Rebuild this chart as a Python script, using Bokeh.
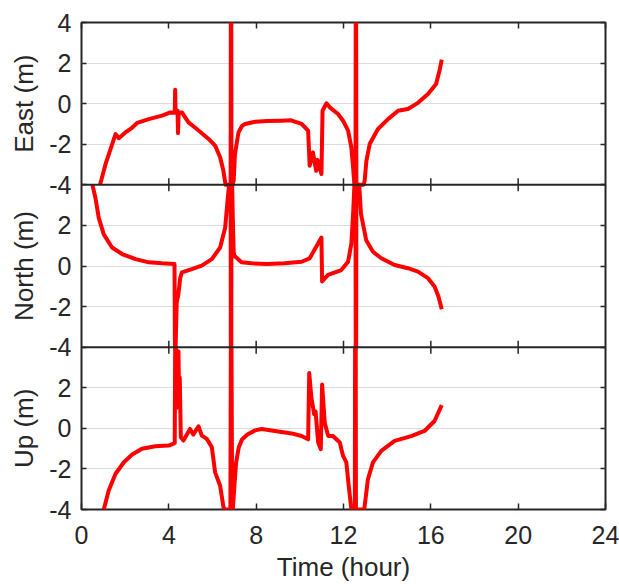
import numpy as np
from math import pi
from bokeh.plotting import figure
from bokeh.layouts import row
from bokeh.models import Range1d, LinearAxis, FixedTicker, Span
from bokeh.core.properties import value
from bokeh.embed import file_html
from bokeh.resources import INLINE

# ---- data (hours, metres); values beyond the +-4 m window are recorded at the window edge ----
east_t = [0.85, 1.10, 1.33, 1.56, 1.71, 2.01, 2.30, 2.55, 3.08, 3.69, 4.07, 4.27, 4.29, 4.31,
          4.40, 4.42, 4.45, 4.60, 4.90, 5.28, 5.82, 6.12, 6.35, 6.50, 6.60, 6.83, 6.84, 6.86,
          6.87, 6.92, 6.97, 7.03, 7.19, 7.35, 7.49, 7.95, 8.50, 9.16, 9.60, 10.08, 10.31, 10.38,
          10.45, 10.60, 10.75, 10.81, 10.99, 11.04, 11.22, 11.37, 11.75, 11.98, 12.21, 12.36,
          12.44, 12.50, 12.55, 12.56, 12.58, 12.59, 12.92, 12.97, 13.05, 13.20, 13.58, 14.04,
          14.50, 14.95, 15.41, 15.87, 16.24, 16.40, 16.50]
east_v = [-4.0, -2.98, -2.24, -1.50, -1.70, -1.42, -1.20, -0.95, -0.76, -0.59, -0.43, -0.45, 0.68, -0.40,
          -0.35, -1.45, -0.45, -0.43, -0.92, -1.25, -1.74, -2.07, -2.64, -3.31, -4.0, -4.0, 4.0, 4.0,
          -4.0, -4.0, -3.80, -2.48, -1.42, -1.10, -1.00, -0.89, -0.86, -0.84, -0.82, -1.00, -1.25, -1.33,
          -3.06, -2.40, -3.31, -2.77, -3.47, -0.35, 0.02, -0.18, -0.51, -0.84, -1.33, -2.16,
          -3.15, -4.0, -4.0, 4.0, 4.0, -4.0, -4.0, -3.80, -2.81, -1.99, -1.25, -0.76,
          -0.35, -0.26, 0.04, 0.48, 0.97, 1.63, 2.17]

north_t = [0.50, 0.64, 0.79, 1.02, 1.40, 1.86, 2.48, 3.08, 3.69, 4.26, 4.28, 4.31, 4.36, 4.44,
           4.52, 4.60, 5.05, 5.51, 5.97, 6.35, 6.58, 6.70, 6.76, 6.83, 6.84, 6.86, 6.87, 6.90,
           6.93, 6.97, 7.00, 7.33, 7.79, 8.50, 9.30, 10.08, 10.45, 10.99, 11.02, 11.29, 11.90,
           12.21, 12.36, 12.44, 12.50, 12.55, 12.56, 12.58, 12.59, 12.72, 12.80, 13.04, 13.35,
           13.73, 14.34, 14.95, 15.41, 15.87, 16.17, 16.35, 16.50]
north_v = [4.0, 3.35, 2.37, 1.56, 0.91, 0.59, 0.34, 0.18, 0.13, 0.10, -4.0, -4.0, -1.80, -1.37,
           -0.60, -0.31, -0.15, 0.02, 0.34, 0.91, 1.89, 3.35, 4.0, 4.0, -4.0, -4.0, 4.0, 4.0,
           2.37, 0.67, 0.50, 0.18, 0.13, 0.10, 0.13, 0.21, 0.38, 1.40, -0.76, -0.44, -0.20,
           0.21, 1.10, 2.57, 4.0, 4.0, -4.0, -4.0, 4.0, 4.0, 2.57, 1.27, 0.70,
           0.38, 0.05, -0.11, -0.28, -0.60, -1.01, -1.50, -2.13]

up_t = [1.02, 1.25, 1.56, 1.94, 2.32, 2.77, 3.38, 3.99, 4.22, 4.27, 4.29, 4.32, 4.35, 4.40,
        4.44, 4.47, 4.50, 4.55, 4.67, 4.97, 5.12, 5.36, 5.51, 5.74, 5.97, 6.12, 6.35, 6.50,
        6.55, 6.82, 6.84, 6.87, 6.90, 6.93, 7.00, 7.08, 7.20, 7.35, 7.60, 7.95, 8.25, 8.71,
        9.62, 10.08, 10.38, 10.43, 10.53, 10.66, 10.72, 10.84, 10.96, 11.02, 11.14, 11.30,
        11.52, 11.83, 11.98, 12.13, 12.24, 12.36, 12.52, 12.53, 12.56, 12.57, 12.95, 13.12,
        13.35, 13.73, 14.34, 15.10, 15.71, 16.17, 16.50]
up_v = [-4.0, -3.05, -2.24, -1.67, -1.29, -1.01, -0.88, -0.85, -0.75, -0.72, 4.0, 4.0, 1.0, 3.7,
        3.8, 1.5, 2.5, -0.44, -0.60, -0.03, -0.31, 0.10, -0.36, -0.52, -0.93, -2.17, -2.83, -3.87,
        -4.0, -4.0, 4.0, 4.0, -4.0, -4.0, -2.90, -1.70, -0.95, -0.55, -0.30, -0.10, -0.03, -0.11,
        -0.25, -0.38, -0.54, 2.73, 1.50, 0.69, 0.84, -0.70, -1.03, 2.16, 0.28, -0.38,
        -0.38, -0.70, -1.36, -1.68, -2.83, -4.0, -4.0, 4.0, 4.0, -4.0, -4.0, -2.50,
        -1.68, -1.11, -0.62, -0.38, -0.13, 0.36, 1.14]

x_ticks = [0, 4, 8, 12, 16, 20, 24]
y_ticks = [-4, -2, 0, 2]
grid_vals = [-2, 0, 2]
panel_names = ["east", "north", "up"]
panel_labels = ["East (m)", "North (m)", "Up (m)"]
x_label = "Time (hour)"

# ---- layout: three stacked +-4 m panels on one frame ----
INK = "#262626"
RED = "#ff0000"
FONT = "Liberation Sans"
offsets = {"east": 16, "north": 8, "up": 0}
TOP, BOTTOM, HEIGHT = 22, 73, 584
LABEL_W = 46

p = figure(width=619 - LABEL_W, height=HEIGHT, output_backend="svg", toolbar_location=None,
           x_range=Range1d(0, 24), y_range=Range1d(-4, 20),
           min_border_left=79 - LABEL_W, min_border_right=14,
           min_border_top=TOP, min_border_bottom=BOTTOM)
p.extra_y_ranges = {"east": Range1d(-4 - 16, 4), "north": Range1d(-4 - 8, 4 + 8)}
p.background_fill_color = "white"
p.border_fill_color = "white"
p.outline_line_color = INK
p.outline_line_width = 2

# left axis
left_ticks = []
overrides = {}
for name in panel_names:
    off = offsets[name]
    for v in y_ticks:
        left_ticks.append(off + v)
        overrides[off + v] = str(v)
left_ticks.append(20)
overrides[20] = "4"

ya = p.yaxis[0]
ya.ticker = FixedTicker(ticks=left_ticks)
ya.major_label_overrides = overrides
ya.major_label_text_font = FONT
ya.major_label_text_font_size = "25px"
ya.major_label_text_color = INK
ya.major_label_standoff = 10
ya.major_tick_in = 5
ya.major_tick_out = 0
ya.major_tick_line_color = INK
ya.major_tick_line_width = 1.5
ya.minor_tick_line_color = None
ya.axis_line_color = None

xa = p.xaxis[0]
xa.ticker = FixedTicker(ticks=x_ticks)
xa.major_label_text_font = FONT
xa.major_label_text_font_size = "25px"
xa.major_label_text_color = INK
xa.major_label_standoff = 16
xa.major_tick_in = 6
xa.major_tick_out = 0
xa.major_tick_line_color = INK
xa.major_tick_line_width = 1.5
xa.minor_tick_line_color = None
xa.axis_line_color = None
xa.axis_label = x_label
xa.axis_label_text_font = FONT
xa.axis_label_text_font_size = "26px"
xa.axis_label_text_font_style = "normal"
xa.axis_label_text_color = INK
xa.axis_label_standoff = 5

# mirrored axes (ticks only, empty labels)
ra = LinearAxis(ticker=FixedTicker(ticks=left_ticks),
                major_label_overrides={t: "" for t in left_ticks},
                major_label_text_font_size="1px",
                major_label_standoff=0, major_tick_in=5, major_tick_out=0,
                major_tick_line_color=INK, major_tick_line_width=1.5,
                minor_tick_line_color=None, axis_line_color=None)
p.add_layout(ra, "right")
ta = LinearAxis(ticker=FixedTicker(ticks=x_ticks),
                major_label_overrides={t: "" for t in x_ticks},
                major_label_text_font_size="1px",
                major_label_standoff=0, major_tick_in=6, major_tick_out=0,
                major_tick_line_color=INK, major_tick_line_width=1.5,
                minor_tick_line_color=None, axis_line_color=None)
p.add_layout(ta, "above")

# grids
p.xgrid.visible = False
p.ygrid.ticker = FixedTicker(ticks=[offsets[n] + g for n in panel_names for g in grid_vals])
p.ygrid.grid_line_color = "#dcdcdc"
p.ygrid.grid_line_width = 1

# panel boundaries and their ticks
for b in [4, 12]:
    p.add_layout(Span(location=b, dimension="width", line_color=INK, line_width=2))
inner = [t for t in x_ticks[1:-1]]
seg_x, seg_y0, seg_y1 = [], [], []
for b in [4, 12]:
    for t in inner:
        seg_x.append(t)
        seg_y0.append(b - 0.32)
        seg_y1.append(b + 0.32)
p.segment(x0=seg_x, y0=seg_y0, x1=seg_x, y1=seg_y1, line_color=INK, line_width=1.5)

# data lines
for name, t, v in [("east", east_t, east_v), ("north", north_t, north_v), ("up", up_t, up_v)]:
    kw = {} if name == "up" else {"y_range_name": name}
    p.line(t, v, line_color=RED, line_width=4, line_join="round", **kw)

# ---- narrow strip on the left holding the per-panel y labels ----
lab = figure(width=LABEL_W, height=HEIGHT, output_backend="svg", toolbar_location=None,
             x_range=Range1d(0, LABEL_W), y_range=Range1d(-4, 20),
             min_border_left=0, min_border_right=0,
             min_border_top=TOP, min_border_bottom=BOTTOM,
             x_axis_location=None, y_axis_location=None)
lab.xgrid.visible = False
lab.ygrid.visible = False
lab.outline_line_color = None
lab.background_fill_color = "white"
lab.border_fill_color = "white"
lab.text(x=[23] * 3, y=[offsets[n] for n in panel_names], text=panel_labels,
         angle=pi / 2, text_align="center", text_baseline="middle",
         text_font=value(FONT), text_font_size="26px", text_color=INK)

layout = row(lab, p, spacing=0)
open("out.html", "w").write(file_html(layout, INLINE))
